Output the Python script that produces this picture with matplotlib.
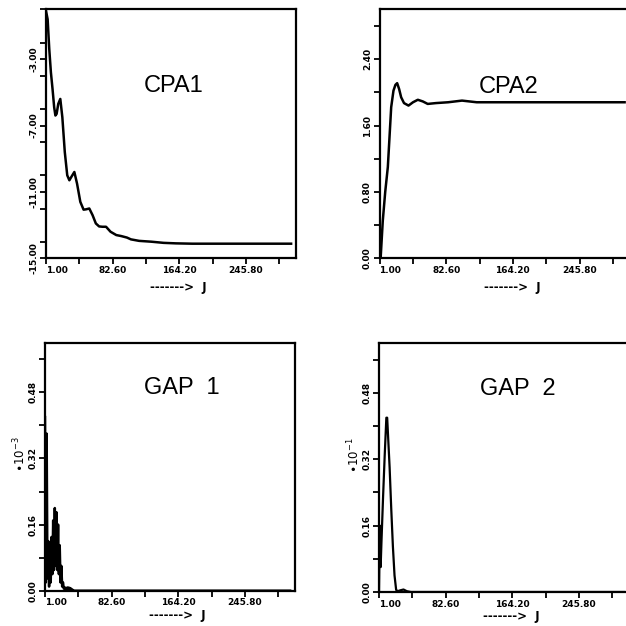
import matplotlib
matplotlib.use("Agg")
import matplotlib.pyplot as plt
from matplotlib.ticker import MultipleLocator, FixedLocator
from matplotlib.transforms import ScaledTranslation

# CPA1 (real part, top left)
j_cpa1 = [1, 3, 5, 7, 9, 11, 12.5, 14, 16, 18.5, 21, 24, 27, 29.6, 32, 35.7, 39, 43, 47,
          50, 54, 58, 62, 66, 70, 74.5, 80, 87, 93, 100, 105, 115, 130, 145, 160, 180,
          200, 250, 301]
cpa1 = [-0.1, -0.6, -2.4, -3.8, -4.8, -5.9, -6.4, -6.3, -5.7, -5.4, -6.5, -8.6, -10.0,
        -10.3, -10.1, -9.8, -10.5, -11.6, -12.07, -12.05, -12.0, -12.4, -12.9, -13.08,
        -13.1, -13.1, -13.4, -13.6, -13.66, -13.75, -13.86, -13.95, -14.0, -14.07,
        -14.1, -14.12, -14.12, -14.12, -14.12]

# CPA2 (top right)
j_cpa2 = [1, 2.5, 5, 8, 11.2, 15.3, 18.1, 20.5, 22.6, 25, 27.5, 31, 36.5, 42, 47.9, 54,
          60, 70, 85, 102, 120, 150, 200, 250, 301]
cpa2 = [0.25, 0.02, 0.45, 0.8, 1.1, 1.82, 2.02, 2.09, 2.11, 2.04, 1.94, 1.87, 1.84,
        1.88, 1.91, 1.89, 1.86, 1.87, 1.88, 1.9, 1.88, 1.88, 1.88, 1.88, 1.88]

# GAP 1 (units of 1e-3), rapidly oscillating at small J
j_gap1 = list(range(1, 41)) + [301]
gap1 = [0.42, 0.02, 0.38, 0.03, 0.12, 0.01, 0.11, 0.02, 0.13, 0.04, 0.17, 0.05, 0.20,
        0.06, 0.19, 0.05, 0.16, 0.04, 0.11, 0.02, 0.06, 0.01, 0.02, 0.005, 0.008,
        0.002, 0.007, 0.003, 0.008, 0.003, 0.007, 0.002, 0.005, 0.001, 0.002, 0.0,
        0.0, 0.0, 0.0, 0.0, 0.0]

# GAP 2 (units of 1e-1)
j_gap2 = [1, 2, 3, 4, 6, 8, 10, 11, 12, 14, 16, 18, 20, 22, 24, 27, 31, 35, 40, 301]
gap2 = [0.0, 0.16, 0.06, 0.12, 0.23, 0.33, 0.42, 0.42, 0.38, 0.3, 0.2, 0.11, 0.04,
        0.005, 0.002, 0.004, 0.006, 0.002, 0.0, 0.0]

x_major = [1.0, 82.6, 164.2, 245.8]
x_labels = ["1.00", "82.60", "164.20", "245.80"]

W = 626.0
fig = plt.figure(figsize=(6.26, 6.26), dpi=100)


def make_ax(left, top, width, height):
    return fig.add_axes([left / W, 1 - (top + height) / W, width / W, height / W])


def style(ax, ylim, ymajor, yticks, ylabels, title, tx, ty, xlab_y=-0.118):
    ax.set_xlim(1, 307)
    ax.set_ylim(*ylim)
    ax.xaxis.set_major_locator(FixedLocator(x_major))
    ax.xaxis.set_minor_locator(FixedLocator([41.8, 123.4, 205.0, 286.6]))
    ax.set_xticklabels(x_labels, fontsize=6.5, fontweight="bold")
    ax.get_xticklabels()[0].set_ha("left")
    ax.yaxis.set_major_locator(FixedLocator(yticks))
    ax.yaxis.set_minor_locator(MultipleLocator(ymajor / 2))
    ax.set_yticklabels(ylabels, fontsize=6.5, fontweight="bold", rotation=90,
                       va="center")
    # lowest y label sits a little above the corner, as in the original
    lab = ax.yaxis.get_major_ticks()[0].label1
    lab.set_transform(lab.get_transform() + ScaledTranslation(0, 4 / 72, fig.dpi_scale_trans))
    ax.tick_params(which="both", direction="out", length=4, width=1.3,
                   top=False, right=False, pad=1.5)
    for s in ax.spines.values():
        s.set_linewidth(1.6)
    ax.text(tx, ty, title, transform=ax.transAxes, ha="center", va="center",
            fontsize=17, family="Liberation Sans")
    ax.text(0.53, xlab_y, "------->  J", transform=ax.transAxes, ha="center",
            va="center", fontsize=8.5, fontweight="bold")


ax1 = make_ax(46, 9.3, 250, 249)
ax1.plot(j_cpa1, cpa1, color="black", lw=1.8)
style(ax1, (-15, 0), 4, [-15, -11, -7, -3], ["-15.00", "-11.00", "-7.00", "-3.00"],
      "CPA1", 0.512, 0.692)

ax2 = make_ax(379.5, 9.3, 250, 249)
ax2.plot(j_cpa2, cpa2, color="black", lw=1.8)
style(ax2, (0, 3.0), 0.8, [0, 0.8, 1.6, 2.4], ["0.00", "0.80", "1.60", "2.40"],
      "CPA2", 0.518, 0.688)

ax3 = make_ax(45, 342.7, 250, 248)
ax3.plot(j_gap1, gap1, color="black", lw=1.8)
style(ax3, (0, 0.6), 0.16, [0, 0.16, 0.32, 0.48], ["0.00", "0.16", "0.32", "0.48"],
      "GAP  1", 0.546, 0.819, xlab_y=-0.1)
ax3.text(-0.098, 0.55, r"$\bullet\mathrm{10^{-3}}$", transform=ax3.transAxes,
         rotation=90, ha="center", va="center", fontsize=8.5)

ax4 = make_ax(379, 343, 250, 249)
ax4.plot(j_gap2, gap2, color="black", lw=1.6)
style(ax4, (0, 0.6), 0.16, [0, 0.16, 0.32, 0.48], ["0.00", "0.16", "0.32", "0.48"],
      "GAP  2", 0.556, 0.815, xlab_y=-0.1)
ax4.text(-0.098, 0.55, r"$\bullet\mathrm{10^{-1}}$", transform=ax4.transAxes,
         rotation=90, ha="center", va="center", fontsize=8.5)

fig.savefig("out.png", dpi=100)
